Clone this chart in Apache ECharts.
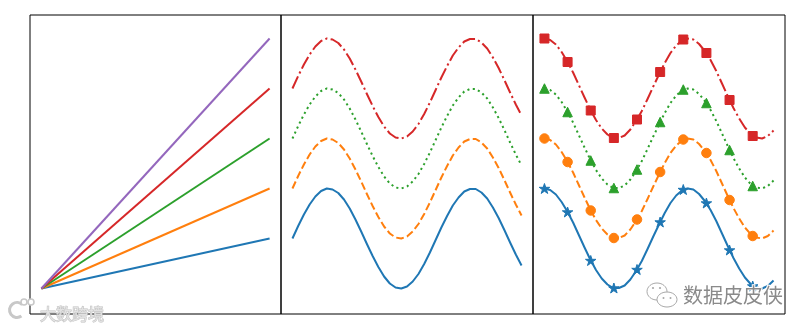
<!DOCTYPE html>
<html>
<head>
<meta charset="utf-8">
<script src="https://cdn.jsdelivr.net/npm/echarts@6/dist/echarts.min.js"></script>
<style>
  html, body { margin: 0; padding: 0; background: #fff; }
  #chart { width: 809px; height: 331px; }
</style>
</head>
<body>
<div id="chart"></div>
<script>
// ---- data ----
// panel 1: straight lines fanning out from a common start
const fanX = [0, 10];
const fanBlue = [-1, 0];
const fanOrange = [-1, 1];
const fanGreen = [-1, 2];
const fanRed = [-1, 3];
const fanPurple = [-1, 4];

// panels 2 and 3: waves sampled every 0.25 on x
const waveX = [0, 0.25, 0.5, 0.75, 1, 1.25, 1.5, 1.75, 2, 2.25, 2.5, 2.75, 3, 3.25, 3.5, 3.75, 4, 4.25, 4.5, 4.75,
  5, 5.25, 5.5, 5.75, 6, 6.25, 6.5, 6.75, 7, 7.25, 7.5, 7.75, 8, 8.25, 8.5, 8.75, 9, 9.25, 9.5, 9.75, 10];

// panel 2: sine waves
const sinBlue = [0, 0.25, 0.48, 0.68, 0.84, 0.95, 1.0, 0.98, 0.91, 0.78, 0.6, 0.38, 0.14, -0.11, -0.35, -0.57, -0.76, -0.9, -0.98, -1.0,
  -0.96, -0.86, -0.71, -0.51, -0.28, -0.03, 0.22, 0.45, 0.66, 0.82, 0.94, 0.99, 0.99, 0.92, 0.8, 0.62, 0.41, 0.17, -0.08, -0.32, -0.54];
const sinOrange = [1, 1.25, 1.48, 1.68, 1.84, 1.95, 2.0, 1.98, 1.91, 1.78, 1.6, 1.38, 1.14, 0.89, 0.65, 0.43, 0.24, 0.1, 0.02, 0.0,
  0.04, 0.14, 0.29, 0.49, 0.72, 0.97, 1.22, 1.45, 1.66, 1.82, 1.94, 1.99, 1.99, 1.92, 1.8, 1.62, 1.41, 1.17, 0.92, 0.68, 0.46];
const sinGreen = [2, 2.25, 2.48, 2.68, 2.84, 2.95, 3.0, 2.98, 2.91, 2.78, 2.6, 2.38, 2.14, 1.89, 1.65, 1.43, 1.24, 1.1, 1.02, 1.0,
  1.04, 1.14, 1.29, 1.49, 1.72, 1.97, 2.22, 2.45, 2.66, 2.82, 2.94, 2.99, 2.99, 2.92, 2.8, 2.62, 2.41, 2.17, 1.92, 1.68, 1.46];
const sinRed = [3, 3.25, 3.48, 3.68, 3.84, 3.95, 4.0, 3.98, 3.91, 3.78, 3.6, 3.38, 3.14, 2.89, 2.65, 2.43, 2.24, 2.1, 2.02, 2.0,
  2.04, 2.14, 2.29, 2.49, 2.72, 2.97, 3.22, 3.45, 3.66, 3.82, 3.94, 3.99, 3.99, 3.92, 3.8, 3.62, 3.41, 3.17, 2.92, 2.68, 2.46];

// panel 3: cosine waves with markers
const cosBlue = [1, 0.97, 0.88, 0.73, 0.54, 0.32, 0.07, -0.18, -0.42, -0.63, -0.8, -0.92, -0.99, -0.99, -0.94, -0.82, -0.65, -0.45, -0.21, 0.04,
  0.28, 0.51, 0.71, 0.86, 0.96, 1.0, 0.98, 0.89, 0.75, 0.57, 0.35, 0.1, -0.15, -0.39, -0.6, -0.78, -0.91, -0.98, -1.0, -0.95, -0.84];
const cosOrange = [2, 1.97, 1.88, 1.73, 1.54, 1.32, 1.07, 0.82, 0.58, 0.37, 0.2, 0.08, 0.01, 0.01, 0.06, 0.18, 0.35, 0.55, 0.79, 1.04,
  1.28, 1.51, 1.71, 1.86, 1.96, 2.0, 1.98, 1.89, 1.75, 1.57, 1.35, 1.1, 0.85, 0.61, 0.4, 0.22, 0.09, 0.02, 0.0, 0.05, 0.16];
const cosGreen = [3, 2.97, 2.88, 2.73, 2.54, 2.32, 2.07, 1.82, 1.58, 1.37, 1.2, 1.08, 1.01, 1.01, 1.06, 1.18, 1.35, 1.55, 1.79, 2.04,
  2.28, 2.51, 2.71, 2.86, 2.96, 3.0, 2.98, 2.89, 2.75, 2.57, 2.35, 2.1, 1.85, 1.61, 1.4, 1.22, 1.09, 1.02, 1.0, 1.05, 1.16];
const cosRed = [4, 3.97, 3.88, 3.73, 3.54, 3.32, 3.07, 2.82, 2.58, 2.37, 2.2, 2.08, 2.01, 2.01, 2.06, 2.18, 2.35, 2.55, 2.79, 3.04,
  3.28, 3.51, 3.71, 3.86, 3.96, 4.0, 3.98, 3.89, 3.75, 3.57, 3.35, 3.1, 2.85, 2.61, 2.4, 2.22, 2.09, 2.02, 2.0, 2.05, 2.16];

const markX = [0, 1.01, 2.02, 3.03, 4.04, 5.05, 6.06, 7.07, 8.08, 9.09];
const markBlue = [1, 0.53, -0.44, -0.99, -0.62, 0.33, 0.98, 0.71, -0.23, -0.95];
const markOrange = [2, 1.53, 0.56, 0.01, 0.38, 1.33, 1.98, 1.71, 0.77, 0.05];
const markGreen = [3, 2.53, 1.56, 1.01, 1.38, 2.33, 2.98, 2.71, 1.77, 1.05];
const markRed = [4, 3.53, 2.56, 2.01, 2.38, 3.33, 3.98, 3.71, 2.77, 2.05];

// ---- styling ----
const C = { blue: '#1f77b4', orange: '#ff7f0e', green: '#2ca02c', red: '#d62728', purple: '#9467bd' };
const LW = 2;
const DASH = { solid: 'solid', dashed: [7.7, 3.3], dotted: [2.1, 3.4], dashdot: [13.3, 3.3, 2.1, 3.3] };
const STAR = 'path://M0,-100 L22.45,-30.9 L95.1,-30.9 L36.3,11.8 L58.8,80.9 L0,38.2 L-58.8,80.9 L-36.3,11.8 L-95.1,-30.9 L-22.45,-30.9 Z';

const zip = (xs, ys) => xs.map((x, i) => [x, ys[i]]);

function line(idx, xs, ys, color, dash) {
  return {
    type: 'line', xAxisIndex: idx, yAxisIndex: idx,
    data: zip(xs, ys), smooth: false,
    showSymbol: false, symbol: 'none', silent: true, animation: false,
    lineStyle: { color: color, width: LW, type: dash, cap: 'butt', join: 'round' }
  };
}
function marks(idx, ys, color, symbol, size) {
  return {
    type: 'scatter', xAxisIndex: idx, yAxisIndex: idx,
    data: zip(markX, ys), symbol: symbol, symbolSize: size, symbolKeepAspect: true,
    silent: true, animation: false,
    itemStyle: { color: color, opacity: 1, borderColor: color, borderWidth: 1 }
  };
}

const gridTop = 15, gridH = 299;
const grids = [
  { left: 30, top: gridTop, width: 251, height: gridH },
  { left: 281, top: gridTop, width: 252, height: gridH },
  { left: 533, top: gridTop, width: 252, height: gridH }
].map(g => Object.assign(g, { show: true, borderColor: '#000', borderWidth: 1, backgroundColor: 'transparent' }));

const hidden = { axisLine: { show: false }, axisTick: { show: false }, axisLabel: { show: false }, splitLine: { show: false } };
const xAxes = [0, 1, 2].map(i => Object.assign({ type: 'value', gridIndex: i, min: -0.5, max: 10.5 }, hidden));
const yAxes = [0, 1, 2].map(i => Object.assign({ type: 'value', gridIndex: i, min: -1.51, max: 4.47 }, hidden));

const series = [
  line(0, fanX, fanBlue, C.blue, DASH.solid),
  line(0, fanX, fanOrange, C.orange, DASH.solid),
  line(0, fanX, fanGreen, C.green, DASH.solid),
  line(0, fanX, fanRed, C.red, DASH.solid),
  line(0, fanX, fanPurple, C.purple, DASH.solid),

  line(1, waveX, sinBlue, C.blue, DASH.solid),
  line(1, waveX, sinOrange, C.orange, DASH.dashed),
  line(1, waveX, sinGreen, C.green, DASH.dotted),
  line(1, waveX, sinRed, C.red, DASH.dashdot),

  line(2, waveX, cosBlue, C.blue, DASH.solid),
  marks(2, markBlue, C.blue, STAR, 10.5),
  line(2, waveX, cosOrange, C.orange, DASH.dashed),
  marks(2, markOrange, C.orange, 'circle', 9.5),
  line(2, waveX, cosGreen, C.green, DASH.dotted),
  marks(2, markGreen, C.green, 'triangle', 9.5),
  line(2, waveX, cosRed, C.red, DASH.dashdot),
  marks(2, markRed, C.red, 'rect', 9)
];

// corner badges
const graphic = [
  // left badge
  { type: 'arc', shape: { cx: 17, cy: 310, r: 7.5, startAngle: Math.PI * 0.3, endAngle: Math.PI * 1.75 },
    style: { stroke: '#c8c8c8', lineWidth: 3, fill: null }, z: 100 },
  { type: 'circle', shape: { cx: 24, cy: 302, r: 3 }, style: { stroke: '#c8c8c8', lineWidth: 1.6, fill: '#fff' }, z: 100 },
  { type: 'circle', shape: { cx: 31, cy: 302, r: 3 }, style: { stroke: '#c8c8c8', lineWidth: 1.6, fill: '#fff' }, z: 100 },
  { type: 'text', z: 100, style: { text: '大数跨境', x: 40, y: 314, textVerticalAlign: 'middle',
      font: '16px "Noto Sans CJK SC"', fill: '#e2e2e2', stroke: '#c0c0c0', lineWidth: 1 } },
  // right badge
  { type: 'ellipse', z: 100, shape: { cx: 657, cy: 291.5, rx: 10, ry: 8.5 }, style: { stroke: '#a8a8a8', lineWidth: 1, fill: '#fff' } },
  { type: 'ellipse', z: 101, shape: { cx: 667, cy: 299.5, rx: 10, ry: 7.5 }, style: { stroke: '#a8a8a8', lineWidth: 1, fill: '#fff' } },
  { type: 'circle', z: 101, shape: { cx: 653, cy: 288, r: 1.1 }, style: { fill: '#a8a8a8' } },
  { type: 'circle', z: 101, shape: { cx: 660, cy: 288, r: 1.1 }, style: { fill: '#a8a8a8' } },
  { type: 'circle', z: 102, shape: { cx: 663.5, cy: 298, r: 1 }, style: { fill: '#a8a8a8' } },
  { type: 'circle', z: 102, shape: { cx: 670.5, cy: 298, r: 1 }, style: { fill: '#a8a8a8' } },
  { type: 'text', z: 100, style: { text: '数据皮皮侠', x: 683, y: 295, textVerticalAlign: 'middle',
      font: '20px "Noto Sans CJK SC"', fill: '#8a8a8a', stroke: '#fff', lineWidth: 2 } }
];

const chart = echarts.init(document.getElementById('chart'), null, { renderer: 'canvas' });
chart.setOption({
  animation: false,
  backgroundColor: '#fff',
  grid: grids,
  xAxis: xAxes,
  yAxis: yAxes,
  series: series,
  graphic: graphic
});
</script>
</body>
</html>
